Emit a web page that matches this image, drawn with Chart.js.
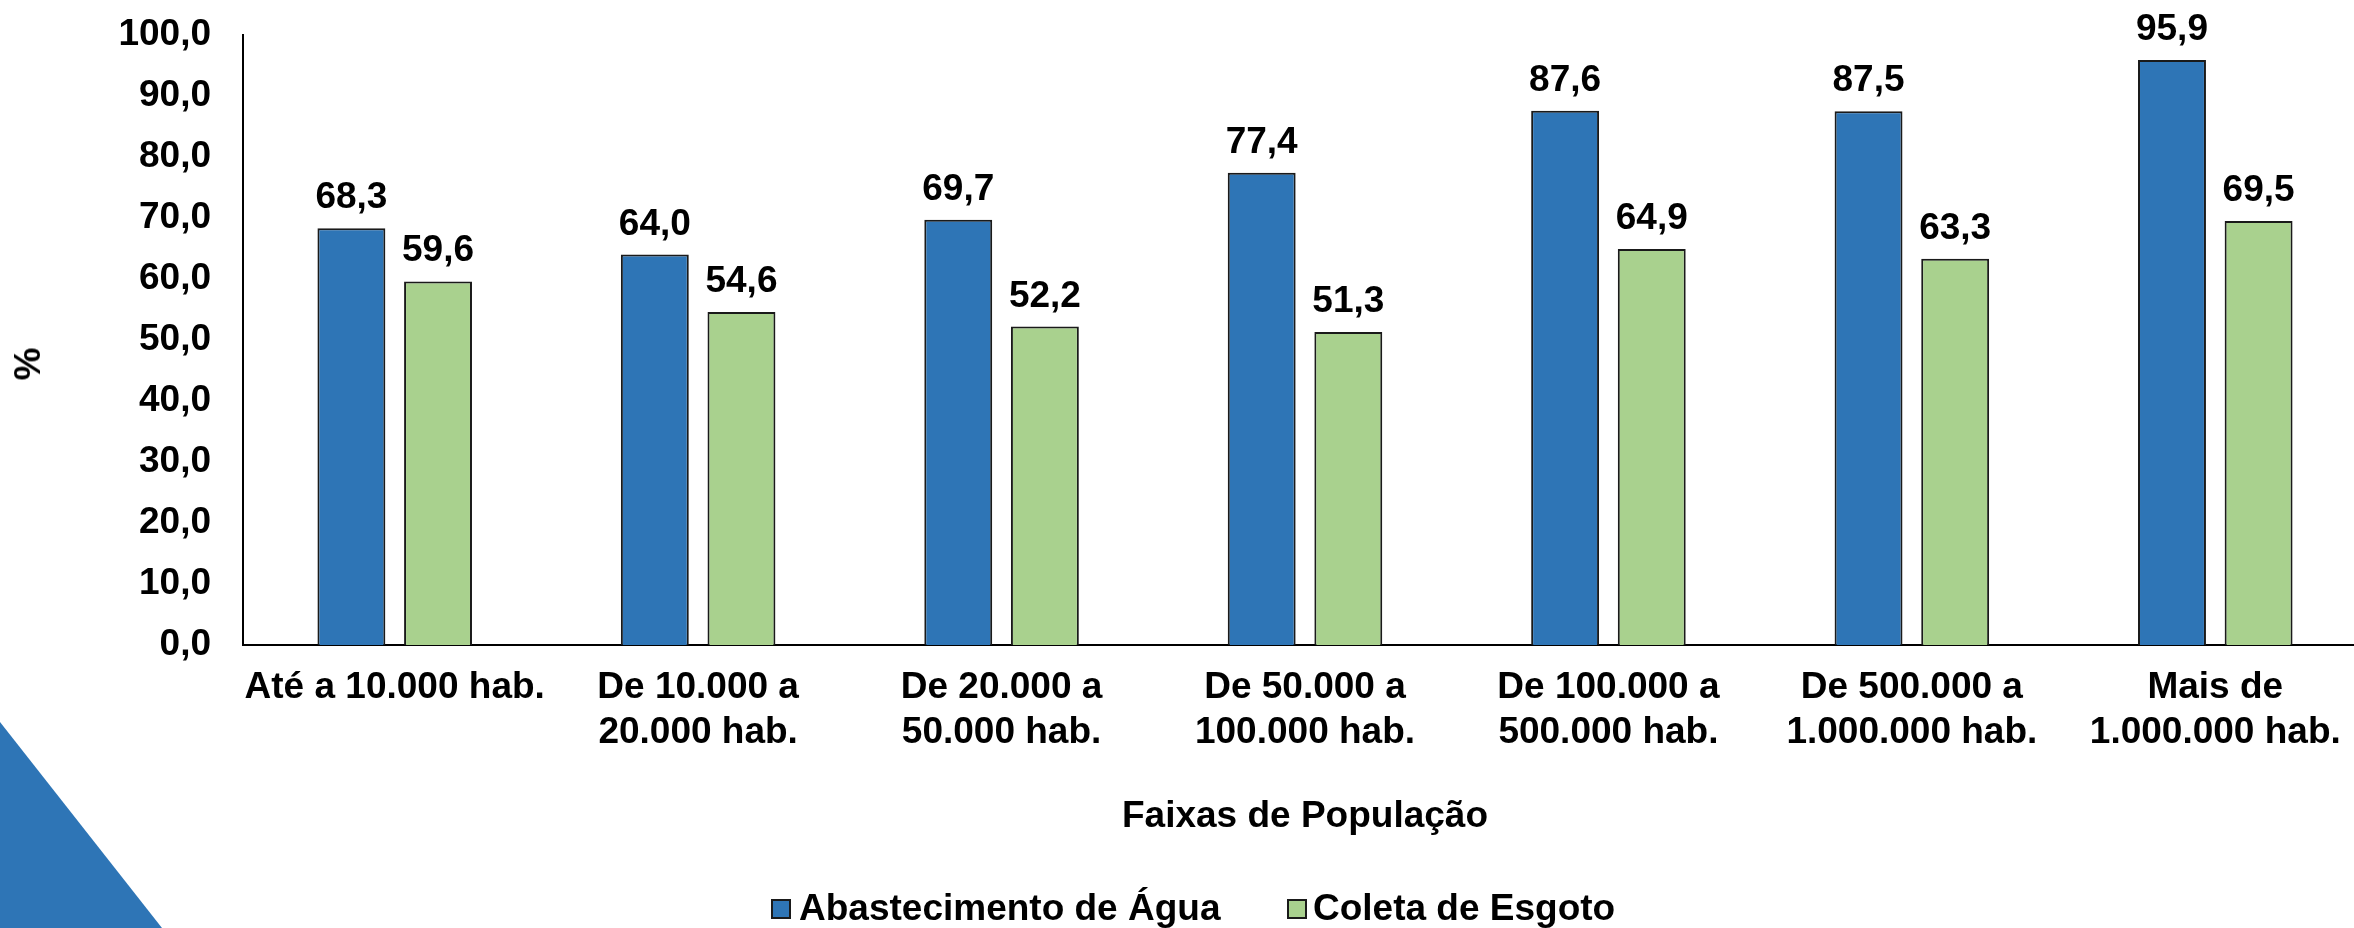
<!DOCTYPE html>
<html>
<head>
<meta charset="utf-8">
<script src="https://cdn.jsdelivr.net/npm/chart.js@4"></script>
<style>
  body { margin: 0; overflow: hidden; background: #fff; font-family: "Liberation Sans", Arial, sans-serif; }
  #wrap { position: absolute; left: 0; top: 0; width: 2367px; height: 928px; }
  .corner { position: absolute; left: 0; top: 722px; width: 162px; height: 206px; background: #2e75b6;
            clip-path: polygon(0 0, 100% 100%, 0 100%); }
  .ytitle { position: absolute; left: 28px; top: 364px; font-weight: bold; font-size: 37px; line-height: 42px;
            transform: translate(-50%, -50%) rotate(-90deg); white-space: nowrap; }
  .leg { position: absolute; top: 887px; font-weight: bold; font-size: 37px; line-height: 42px; white-space: nowrap; }
  .box { position: absolute; top: 899px; width: 20px; height: 20px; box-sizing: border-box; border: 2px solid #1a1a1a; }
</style>
</head>
<body>
<div id="wrap"><canvas id="chart" width="2367" height="928"></canvas></div>
<div class="corner"></div>
<div class="ytitle">%</div>
<div class="box" style="left:771px;background:#2e75b6"></div>
<div class="leg" style="left:799px">Abastecimento de Água</div>
<div class="box" style="left:1287px;background:#a9d18e"></div>
<div class="leg" style="left:1313px">Coleta de Esgoto</div>

<script>
// faixas de população (labels em duas linhas)
const categories = [
    ["Até a 10.000 hab."],
    ["De 10.000 a", "20.000 hab."],
    ["De 20.000 a", "50.000 hab."],
    ["De 50.000 a", "100.000 hab."],
    ["De 100.000 a", "500.000 hab."],
    ["De 500.000 a", "1.000.000 hab."],
    ["Mais de", "1.000.000 hab."]
];
const agua = [68.3, 64.0, 69.7, 77.4, 87.6, 87.5, 95.9];
const esgoto = [59.6, 54.6, 52.2, 51.3, 64.9, 63.3, 69.5];
const yTicks = [0, 10, 20, 30, 40, 50, 60, 70, 80, 90, 100];

const fmt = v => v.toFixed(1).replace(".", ",");
const FONT = { size: 37, weight: "bold", family: '"Liberation Sans", Arial, sans-serif' };

Chart.defaults.font.family = FONT.family;
Chart.defaults.color = "#000";

const valueLabels = {
    id: "valueLabels",
    afterDatasetsDraw(chart) {
        const ctx = chart.ctx;
        ctx.save();
        ctx.font = `bold ${FONT.size}px ${FONT.family}`;
        ctx.fillStyle = "#000";
        ctx.textAlign = "center";
        ctx.textBaseline = "alphabetic";
        chart.data.datasets.forEach((ds, i) => {
            chart.getDatasetMeta(i).data.forEach((bar, j) => {
                ctx.fillText(fmt(ds.data[j]), bar.x, bar.y - 20);
            });
        });
        ctx.restore();
    }
};

new Chart(document.getElementById("chart"), {
    type: "bar",
    data: {
        labels: categories,
        datasets: [
            { label: "Abastecimento de Água", data: agua, backgroundColor: "#2e75b6",
              borderColor: "#1a1a1a", borderWidth: 2, categoryPercentage: 0.571, barPercentage: 0.784 },
            { label: "Coleta de Esgoto", data: esgoto, backgroundColor: "#a9d18e",
              borderColor: "#1a1a1a", borderWidth: 2, categoryPercentage: 0.571, barPercentage: 0.784 }
        ]
    },
    options: {
        responsive: false,
        animation: false,
        layout: { padding: { top: 35, left: 0, right: 0, bottom: 0 } },
        plugins: { legend: { display: false }, tooltip: { enabled: false } },
        scales: {
            x: {
                grid: { display: false, drawTicks: false },
                border: { display: true, color: "#000", width: 2 },
                ticks: { color: "#000", padding: 20, autoSkip: false, maxRotation: 0, minRotation: 0,
                         font: { ...FONT, lineHeight: "45px" } },
                title: { display: true, text: "Faixas de População", color: "#000",
                         font: FONT, padding: { top: 0, bottom: 89 } },
                afterFit: s => { s.height = 283; s.paddingLeft = 0; s.paddingRight = 0; }
            },
            y: {
                min: 0, max: 100,
                afterBuildTicks: s => { s.ticks = yTicks.map(v => ({ value: v })); },
                grid: { display: false, drawTicks: false },
                border: { display: true, color: "#000", width: 2 },
                ticks: { color: "#000", padding: 32, font: FONT, callback: v => fmt(v) },
                afterFit: s => { s.width = 243; s.paddingTop = 0; s.paddingBottom = 0; }
            }
        }
    },
    plugins: [valueLabels]
});
</script>
</body>
</html>
